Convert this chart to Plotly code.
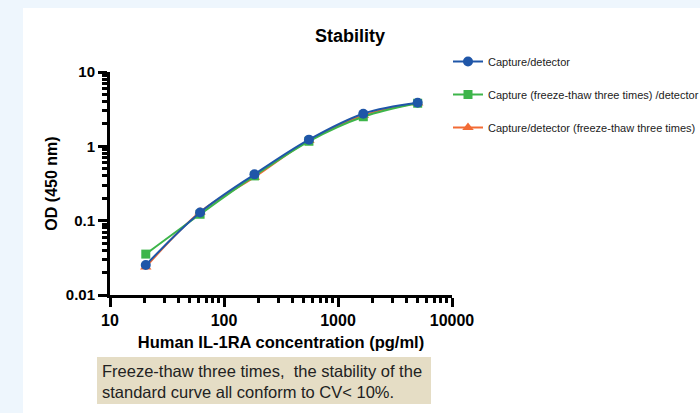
import plotly.graph_objects as go

# Data
conc = [20.6, 61.7, 185, 556, 1667, 5000]
od_cd = [0.0253, 0.129, 0.42, 1.23, 2.75, 3.85]          # Capture/detector
od_cft = [0.0355, 0.122, 0.40, 1.17, 2.50, 3.80]         # Capture (freeze-thaw) /detector
od_dft = [0.0238, 0.131, 0.385, 1.20, 2.60, 3.82]        # Capture/detector (freeze-thaw)
names = ["Capture/detector",
         "Capture (freeze-thaw three times) /detector",
         "Capture/detector (freeze-thaw three times)"]
x_ticks = [10, 100, 1000, 10000]
x_minor = [m * d for d in (10, 100, 1000) for m in range(2, 10)]
y_ticks = [0.01, 0.1, 1, 10]
y_tick_text = ["0.01", "0.1", "1", "10"]
y_minor = [m * d for d in (0.01, 0.1, 1) for m in range(2, 10)]

W, H = 700, 413
L, R, T, B = 110, 452, 72, 295

def px2x(p):
    return (p - L) / (R - L)

def px2y(p):
    return (B - p) / (B - T)

fig = go.Figure()
traces = [
    (names[2], od_dft, "#F26B35", "triangle-up", 10),
    (names[1], od_cft, "#3DB54A", "square", 9),
    (names[0], od_cd, "#1F56A8", "circle", 10),
]
order = {names[0]: 1, names[1]: 2, names[2]: 3}
for nm, ys, col, sym, sz in traces:
    fig.add_trace(go.Scatter(
        x=conc, y=ys, name=nm, mode="lines+markers",
        line=dict(color=col, width=2, shape="spline"),
        marker=dict(color=col, symbol=sym, size=sz),
        legendgroup=nm, legendrank=order[nm],
    ))

font_fam = "Arial, Liberation Sans, sans-serif"
axis_common = dict(
    type="log", showgrid=False, zeroline=False,
    showline=True, linecolor="black", linewidth=3,
    ticks="outside", ticklen=9, tickwidth=3, tickcolor="black",
)
minor_style = dict(ticks="outside", ticklen=5, tickwidth=2.5, tickcolor="black", showgrid=False)

fig.update_xaxes(**axis_common, range=[1, 4], tickvals=x_ticks,
                 ticktext=[str(v) for v in x_ticks],
                 minor=dict(**minor_style, tickvals=x_minor),
                 tickfont=dict(family=font_fam, size=16, color="black", weight="bold"),
                 title=dict(text="Human IL-1RA concentration (pg/ml)",
                            font=dict(family=font_fam, size=16.5, color="black", weight="bold"),
                            standoff=9))
fig.update_yaxes(**axis_common, range=[-2, 1], tickvals=y_ticks, ticktext=y_tick_text,
                 minor=dict(**minor_style, tickvals=y_minor),
                 tickfont=dict(family=font_fam, size=15, color="black", weight="bold"),
                 title=dict(text="OD (450 nm)",
                            font=dict(family=font_fam, size=16, color="black", weight="bold"),
                            standoff=5))

fig.update_layout(
    width=W, height=H,
    margin=dict(l=L, r=W - R, t=T, b=H - B, pad=0, autoexpand=False),
    paper_bgcolor="#EEF6FD", plot_bgcolor="rgba(0,0,0,0)",
    showlegend=True,
    legend=dict(xref="container", yref="container",
                x=448 / W, y=1 - 47 / H, xanchor="left", yanchor="top",
                traceorder="grouped", tracegroupgap=14,
                font=dict(family=font_fam, size=11, color="#222"),
                bgcolor="rgba(0,0,0,0)"),
    title=dict(text="Stability", x=px2x(281), xanchor="center", y=1 - 36 / H, yanchor="middle",
               font=dict(family=font_fam, size=18, color="black", weight="bold")),
    shapes=[
        dict(type="rect", xref="paper", yref="paper", layer="below",
             x0=px2x(23), x1=px2x(702), y0=px2y(415), y1=px2y(8),
             fillcolor="white", line=dict(width=0)),
        dict(type="rect", xref="paper", yref="paper", layer="below",
             x0=px2x(97), x1=px2x(431), y0=px2y(404), y1=px2y(357),
             fillcolor="#E5DDC5", line=dict(width=0)),
    ],
    annotations=[
        dict(xref="paper", yref="paper", x=px2x(100), y=px2y(381), xanchor="left", yanchor="middle",
             align="left", showarrow=False,
             text="Freeze-thaw three times,  the stability of the<br>standard curve all conform to CV< 10%.",
             font=dict(family=font_fam, size=16.5, color="#222")),
    ],
)

fig.write_html("out.html", config={"displayModeBar": False},
               post_script="document.body.style.margin='0';document.body.style.padding='0';")
